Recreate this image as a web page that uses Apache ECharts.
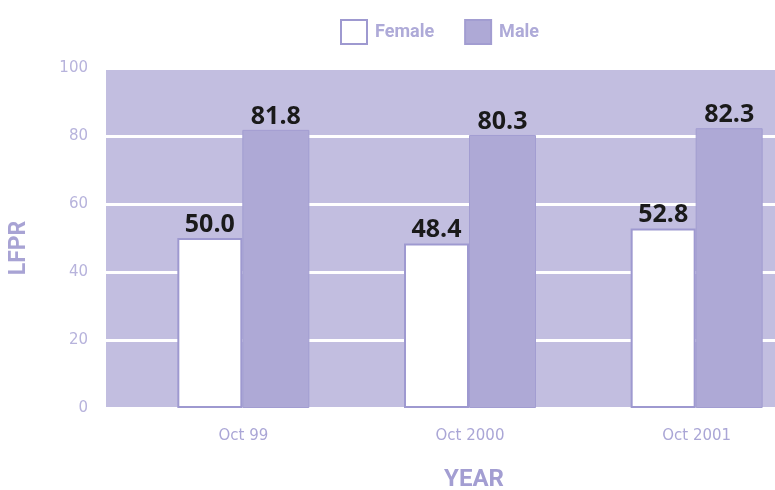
<!DOCTYPE html>
<html><head><meta charset="utf-8">
<script src="https://cdn.jsdelivr.net/npm/echarts@6/dist/echarts.min.js"></script>
<style>html,body{margin:0;padding:0;background:#fff}#c{width:775px;height:490px}</style>
</head><body><div id="c"></div>
<script>
var categories = ['Oct 99', 'Oct 2000', 'Oct 2001'];
var female = [50.0, 48.4, 52.8];
var male = [81.8, 80.3, 82.3];
var yTicks = [0, 20, 40, 60, 80, 100];

var chart = echarts.init(document.getElementById('c'));
var axisTxt = '#b7b3dc';
var lbl = {show: true, position: 'top', distance: 1, color: '#1a1a1a', fontFamily: 'Open Sans', fontWeight: 'bold', fontSize: 25, formatter: function(p){return p.value.toFixed(1);}};
chart.setOption({
  animation: false,
  legend: {
    top: 14, left: 335, itemWidth: 26, itemHeight: 24, itemGap: 30, icon: 'rect',
    textStyle: {color: '#aeaad8', fontFamily: 'Roboto', fontWeight: 'bold', fontSize: 18, padding: [0, 0, 0, 3]},
    data: ['Female', 'Male']
  },
  grid: [
    {left: 106, right: 0, top: 68, bottom: 82},
    {left: 130, width: 680, top: 68, bottom: 82, outerBoundsMode: 'none'}
  ],
  xAxis: [
    {gridIndex: 0, type: 'value', min: 0, max: 1, show: false},
    {gridIndex: 1, type: 'category', data: categories,
     axisLine: {show: false}, axisTick: {show: false},
     axisLabel: {color: '#aaa6d6', fontFamily: 'DejaVu Sans', fontSize: 15, margin: 21},
     name: 'YEAR', nameLocation: 'middle', nameGap: 60,
     nameTextStyle: {color: '#a39ed2', fontFamily: 'Roboto', fontWeight: 'bold', fontSize: 24, padding: [0, 0, 0, 8]}}
  ],
  yAxis: [
    {gridIndex: 0, type: 'value', min: 0, max: 100, interval: 20,
     axisLine: {show: false}, axisTick: {show: false},
     axisLabel: {color: axisTxt, fontFamily: 'DejaVu Sans', fontSize: 15, margin: 18,
       formatter: function(v){return yTicks.indexOf(v) >= 0 ? String(v) : '';}},
     splitLine: {show: true, lineStyle: {color: '#ffffff', width: 3}},
     splitArea: {show: true, areaStyle: {color: ['#c2bee0', '#c2bee0']}},
     name: 'LFPR', nameLocation: 'middle', nameGap: 75, nameRotate: 90,
     nameTextStyle: {color: '#a8a3d4', fontFamily: 'Roboto', fontWeight: 'bold', fontSize: 23, padding: [0, 20, 0, 0]}},
    {gridIndex: 1, type: 'value', min: 0, max: 100, interval: 20, show: false, splitLine: {show: false}}
  ],
  series: [
    {name: 'Female', type: 'bar', xAxisIndex: 1, yAxisIndex: 1, data: female,
     barWidth: 65, barGap: '0%',
     itemStyle: {color: '#ffffff', borderColor: '#9e99d0', borderWidth: 2},
     label: lbl},
    {name: 'Male', type: 'bar', xAxisIndex: 1, yAxisIndex: 1, data: male,
     barWidth: 67, barGap: '0%',
     itemStyle: {color: '#aea9d6', borderColor: '#a29dd1', borderWidth: 1},
     label: lbl}
  ]
});
</script></body></html>
